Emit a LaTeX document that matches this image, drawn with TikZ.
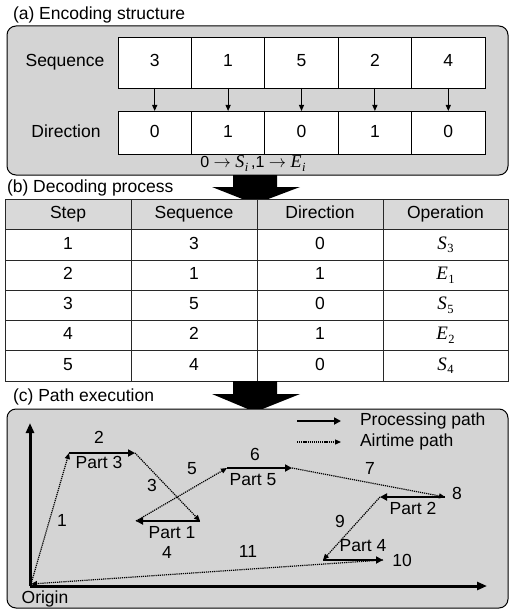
\documentclass[tikz,border=0pt]{standalone}
\usepackage{fontspec}
\setmainfont{Liberation Sans}
\newfontfamily\serifface{Liberation Serif}
\usetikzlibrary{arrows.meta}
\definecolor{panelgray}{RGB}{212,212,212}
\definecolor{headgray}{RGB}{217,217,217}
\definecolor{linegray}{RGB}{40,40,40}
\newcommand{\opvar}[2]{{\fontsize{19}{20}\selectfont\serifface\itshape #1}\kern0.6pt\raisebox{-3.5pt}{\fontsize{12.5}{12}\selectfont\serifface #2}}
\newcommand{\opvari}[1]{{\fontsize{18}{20}\selectfont\serifface\itshape #1}\kern0.6pt\raisebox{-3.5pt}{\fontsize{12.5}{12}\selectfont\serifface\itshape i}}
\begin{document}
\begin{tikzpicture}[x=1pt,y=-1pt,
  every node/.style={font=\fontsize{17.5}{20}\selectfont, inner sep=0pt, outer sep=0pt, text height=12.6pt, text depth=3.6pt},
  panel/.style={draw=black, line width=1pt, fill=panelgray, rounded corners=9pt},
  cell/.style={draw=black, line width=0.8pt, fill=white, minimum width=73.4pt},
  conn/.style={line width=1.1pt, -{Triangle[length=6pt,width=5pt]}},
  tline/.style={draw=linegray, line width=0.9pt},
  bigarrow/.style={fill=black},
  axis/.style={line width=3pt, -{Triangle[length=10pt,width=8pt]}},
  proc/.style={line width=2.8pt, -{Triangle[length=7pt,width=7pt]}},
  air/.style={line width=1.2pt, dash pattern=on 1.2pt off 0.9pt, -{Triangle[length=6pt,width=5pt]}},
  title/.style={anchor=west}
]
\useasboundingbox (0,0) rectangle (515,615);

% ---------- (a) ----------
\node[title] (ta) at (13,15) {(a) Encoding structure};
\draw[panel] (7,26) rectangle (508,175);
\node (lseq) at (65,62) {Sequence};
\node (ldir) at (66,133) {Direction};
\foreach \i/\s/\d in {1/3/0,2/1/1,3/5/0,4/2/1,5/4/0}{
  \node[cell, minimum height=51pt] (s\i) at ({118+73.4*(\i-0.5)},62.5) {\s};
  \node[cell, minimum height=43pt] (d\i) at ({118+73.4*(\i-0.5)},132.5) {\d};
  \draw[conn] (s\i.south) -- (d\i.north);
}
\node[font=\fontsize{16}{19}\selectfont] (rule) at (253,163) {0 $\rightarrow$ \opvari{S}\,,1 $\rightarrow$ \opvari{E}};

% big arrow 1
\fill[bigarrow] (233,175) -- (277,175) -- (277,187) -- (300,187) -- (255,204) -- (212,187) -- (233,187) -- cycle;

% ---------- (b) ----------
\node[title] (tb) at (7,188) {(b) Decoding process};
\fill[headgray] (5,199) rectangle (508,229);
\fill[white] (5,229) rectangle (508,381);
\draw[tline] (5,199) rectangle (508,381);
\foreach \y in {229,260,290,320,350}{ \draw[tline] (5,\y) -- (508,\y); }
\foreach \x in {131,257,383}{ \draw[tline] (\x,199) -- (\x,381); }
\node (h1) at (68,214) {Step};
\node (h2) at (194,214) {Sequence};
\node (h3) at (320,214) {Direction};
\node (h4) at (445.5,214) {Operation};
\foreach \r/\y/\a/\b/\c/\o/\k in {1/244.5/1/3/0/S/3, 2/275/2/1/1/E/1, 3/305/3/5/0/S/5, 4/335/4/2/1/E/2, 5/365.5/5/4/0/S/4}{
  \node (r\r a) at (68,\y) {\a};
  \node (r\r b) at (194,\y) {\b};
  \node (r\r c) at (320,\y) {\c};
  \node (r\r d) at (445.5,\y) {\opvar{\o}{\k}};
}

% big arrow 2
\fill[bigarrow] (233,381) -- (277,381) -- (277,394) -- (300,394) -- (255,412) -- (212,394) -- (233,394) -- cycle;

% ---------- (c) ----------
\node[title] (tc) at (13,397) {(c) Path execution};
\draw[panel] (7,409) rectangle (508,608);

% axes
\coordinate (ax0) at (30,586);
\coordinate (axy) at (30,423);
\coordinate (axx) at (487,586);
\draw[axis] (ax0) -- (axy);
\draw[axis] (ax0) -- (axx);
\node (origin) at (45,599) {Origin};

% legend
\coordinate (lg1a) at (297,421);
\coordinate (lg1b) at (341,421);
\coordinate (lg2a) at (297,442);
\coordinate (lg2b) at (341,442);
\draw[proc] (lg1a) -- (lg1b);
\draw[air] (lg2a) -- (lg2b);
\node[anchor=west] (lgt1) at (360,421) {Processing path};
\node[anchor=west] (lgt2) at (360,442) {Airtime path};

% points
\coordinate (O) at (31,584);
\coordinate (p3s) at (69,453);
\coordinate (p3e) at (135,453);
\coordinate (p1s) at (200,521);
\coordinate (p1e) at (136,521);
\coordinate (p5s) at (227,468);
\coordinate (p5e) at (292,468);
\coordinate (p2s) at (445,497);
\coordinate (p2e) at (380,497);
\coordinate (p4s) at (323,560);
\coordinate (p4e) at (383,560);

% processing paths
\draw[proc] (p3s) -- (p3e);
\draw[proc] (p1s) -- (p1e);
\draw[proc] (p5s) -- (p5e);
\draw[proc] (p2s) -- (p2e);
\draw[proc] (p4s) -- (p4e);

% airtime paths
\draw[air] (O) -- (p3s);
\draw[air] (p3e) -- (p1s);
\draw[air] (p1e) -- (p5s);
\draw[air] (p5e) -- (p2s);
\draw[air] (p2e) -- (p4s);
\draw[air] (p4e) -- (O);

% labels
\node (n1) at (62,522) {1};
\node (n2) at (99,439) {2};
\node (lp3) at (99,464) {Part 3};
\node (n3) at (152,487) {3};
\node (n4) at (167,554) {4};
\node (lp1) at (172,534) {Part 1};
\node (n5) at (192,470) {5};
\node (n6) at (255,456) {6};
\node (lp5) at (253,481) {Part 5};
\node (n7) at (370,470) {7};
\node (n8) at (457,495) {8};
\node (lp2) at (413,510) {Part 2};
\node (n9) at (340,523) {9};
\node (lp4) at (363,547) {Part 4};
\node (n10) at (402,562) {10};
\node (n11) at (248,553) {11};
\end{tikzpicture}
\end{document}
